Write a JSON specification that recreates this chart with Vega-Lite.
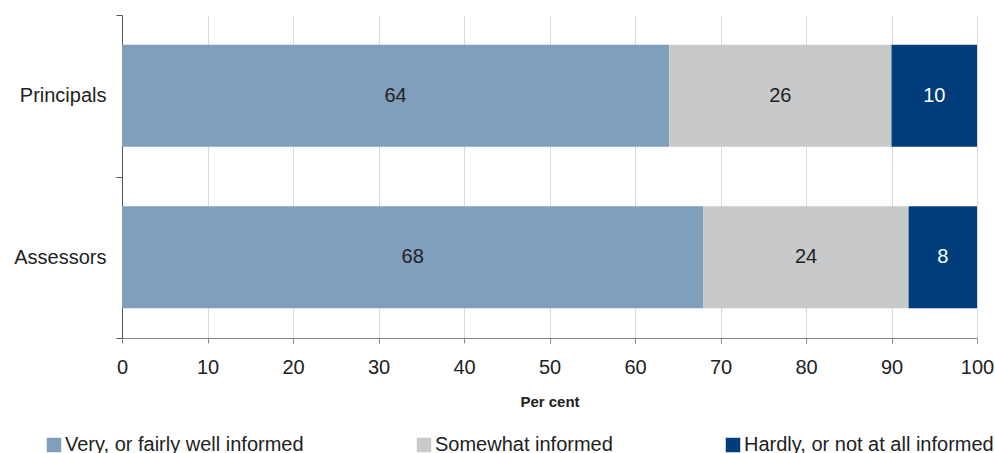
{
  "$schema": "https://vega.github.io/schema/vega-lite/v6.json",
  "width": 855,
  "height": 323,
  "autosize": {"type": "none"},
  "padding": {"left": 122, "top": 15, "right": 18, "bottom": 115},
  "background": "white",
  "config": {
    "font": "Liberation Sans",
    "view": {"stroke": null}
  },
  "data": {
    "values": [
      {"group": "Principals", "level": "Very, or fairly well informed", "rank": 1, "value": 64},
      {"group": "Principals", "level": "Somewhat informed", "rank": 2, "value": 26},
      {"group": "Principals", "level": "Hardly, or not at all informed", "rank": 3, "value": 10},
      {"group": "Assessors", "level": "Very, or fairly well informed", "rank": 1, "value": 68},
      {"group": "Assessors", "level": "Somewhat informed", "rank": 2, "value": 24},
      {"group": "Assessors", "level": "Hardly, or not at all informed", "rank": 3, "value": 8}
    ]
  },
  "transform": [
    {"stack": "value", "groupby": ["group"], "sort": [{"field": "rank"}], "as": ["v0", "v1"]},
    {"calculate": "(datum.v0 + datum.v1) / 2", "as": "labelPos"}
  ],
  "encoding": {
    "y": {
      "field": "group",
      "type": "nominal",
      "sort": ["Principals", "Assessors"],
      "scale": {"paddingInner": 0, "paddingOuter": 0},
      "axis": {
        "title": null,
        "tickBand": "extent",
        "tickSize": 6,
        "tickColor": "#555555",
        "domainColor": "#555555",
        "labelFontSize": 20,
        "labelColor": "#222222",
        "labelPadding": 10
      }
    }
  },
  "layer": [
    {
      "mark": {"type": "bar", "height": {"band": 0.632}},
      "encoding": {
        "x": {
          "field": "v0",
          "type": "quantitative",
          "scale": {"domain": [0, 100], "nice": false},
          "axis": {
            "title": "Per cent",
            "titleFontSize": 15,
            "titleFontWeight": "bold",
            "titleColor": "#222222",
            "titlePadding": 17,
            "values": [0, 10, 20, 30, 40, 50, 60, 70, 80, 90, 100],
            "labelFlush": false,
            "labelFontSize": 20,
            "labelColor": "#222222",
            "labelPadding": 14,
            "tickSize": 5,
            "tickColor": "#888888",
            "domainColor": "#888888",
            "gridColor": "#d9d9d9",
            "zindex": 0
          }
        },
        "x2": {"field": "v1"},
        "color": {
          "field": "level",
          "type": "nominal",
          "sort": ["Very, or fairly well informed", "Somewhat informed", "Hardly, or not at all informed"],
          "scale": {
            "domain": ["Very, or fairly well informed", "Somewhat informed", "Hardly, or not at all informed"],
            "range": ["#7f9fbc", "#c8c9cb", "#003d7a"]
          },
          "legend": {
            "title": null,
            "orient": "none",
            "direction": "horizontal",
            "columns": 3,
            "columnPadding": 110,
            "legendX": -78,
            "legendY": 420,
            "padding": 0,
            "symbolType": "square",
            "symbolSize": 210,
            "symbolStrokeWidth": 0,
            "symbolOpacity": 1,
            "labelFontSize": 20,
            "labelLimit": 0,
            "labelColor": "#222222",
            "labelOffset": 1
          }
        }
      }
    },
    {
      "mark": {"type": "text", "fontSize": 20, "baseline": "middle", "align": "center"},
      "encoding": {
        "x": {"field": "labelPos", "type": "quantitative"},
        "text": {"field": "value", "type": "quantitative"},
        "color": {
          "condition": {"test": "datum.rank === 3", "value": "white"},
          "value": "#222222"
        }
      }
    }
  ]
}
